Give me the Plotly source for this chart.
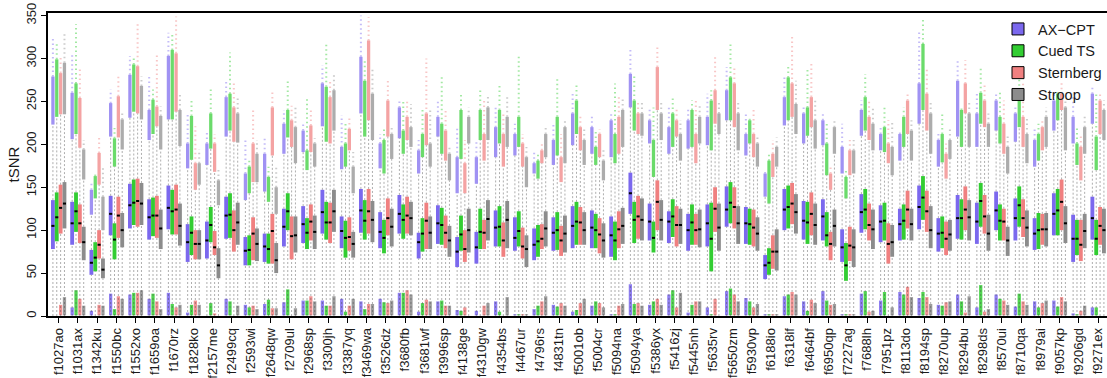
import plotly.graph_objects as go

subjects = ["f1027ao", "f1031ax", "f1342ku", "f1550bc", "f1552xo", "f1659oa", "f1670rz", "f1828ko",
            "f2157me", "f2499cq", "f2593wi", "f2648qw", "f2709ul", "f2968sp", "f3300jh", "f3387yq",
            "f3469wa", "f3526dz", "f3680fb", "f3681wf", "f3996sp", "f4138ge", "f4310gw", "f4354bs",
            "f4467ur", "f4796rs", "f4831tn", "f5001ob", "f5004cr", "f5094na", "f5094ya", "f5386yx",
            "f5416zj", "f5445nh", "f5635rv", "f5650zm", "f5930vp", "f6188io", "f6318if", "f6464bf",
            "f6950qp", "f7227ag", "f7688lh", "f7951pz", "f8113do", "f8194sp", "f8270up", "f8294bu",
            "f8298ds", "f8570ui", "f8710qa", "f8979ai", "f9057kp", "f9206gd", "f9271ex"]
tasks = ["AX\u2212CPT", "Cued TS", "Sternberg", "Stroop"]

# ---- AX-CPT ----
ax_q3 = [135,133,77,140,154,136,152,107,110,139, 92,96,125,128,147,116,148,121,141,97,
         129,92,98,123,115,102,115,128,123,116, 167,131,122,119,130,151,127,71,148,134,
         136,101,142,129,125,152,114,141,132,145, 137,114,143,118,139]
ax_q1 = [78,83,48,94,102,89,101,63,67,90, 59,63,81,85,96,79,97,79,96,67,
         84,57,61,81,76,65,76,79,79,69, 119,88,85,76,81,104,84,43,100,89,
         88,63,97,86,88,101,75,90,84,100, 88,77,94,63,89]
ax_med = [105,108,62,119,129,115,126,86,88,117, 76,81,104,107,121,99,123,98,119,86,
          108,75,80,103,91,83,97,105,103,94, 143,110,110,100,108,124,108,59,124,111,
          116,80,121,110,107,127,96,114,110,123, 114,96,119,90,114]
ax_up_start = [223,206,118,209,231,205,229,172,176,209, 135,145,189,191,221,171,236,172,207,166,
               209,143,154,185,187,166,176,199,189,185, 243,201,189,195,199,228,187,139,222,201,
               199,166,210,193,181,224,174,209,197,216, 203,174,216,201,224]
ax_up_dense = [279,260,147,248,281,240,303,201,201,255, 166,189,224,216,271,197,302,201,243,193,
               232,185,185,220,212,178,205,236,220,228, 282,228,220,228,232,263,212,166,255,236,
               228,197,240,212,212,271,205,274,236,251, 236,205,251,232,259]
ax_up_max = [323,306,157,264,303,279,330,236,216,274, 208,208,240,226,292,234,350,212,253,205,
             251,220,205,243,224,193,224,259,234,236, 313,243,243,243,259,290,236,170,278,243,
             236,224,251,220,216,333,212,298,259,259, 243,220,259,259,267]
ax_low_top = [0,10,6,26,25,20,27,4,0,20, 13,14,16,18,18,20,17,20,27,5,
              17,7,6,17,2,8,13,5,12,2, 37,13,25,4,10,29,21,2,23,17,
              29,2,26,18,28,21,13,25,10,25, 11,17,18,3,10]

# ---- Cued TS ----
ts_q3 = [144,144,86,108,159,138,147,116,127,143, 94,96,143,114,133,111,135,112,130,114,
         126,117,125,128,122,106,121,133,119,110, 133,110,136,130,132,156,125,79,152,133,
         121,85,148,132,130,163,116,136,155,130, 151,120,148,112,112]
ts_q1 = [87,98,52,66,106,93,95,71,86,91, 59,61,100,78,89,68,89,73,90,75,
         83,76,78,81,81,69,77,83,79,65, 85,74,92,83,52,108,83,48,102,84,
         81,41,101,88,89,112,79,89,104,88, 104,78,94,71,71]
ts_med = [115,122,68,89,132,117,122,97,106,118, 77,78,122,97,109,91,111,91,112,96,
          106,95,98,104,99,87,100,110,100,88, 112,91,116,109,90,132,107,62,127,109,
          94,59,124,111,111,138,97,114,134,111, 129,100,123,90,90]
ts_up_start = [232,212,137,174,238,212,229,182,195,216, 143,133,208,170,203,174,209,166,189,185,
               189,183,205,201,197,160,187,212,176,178, 216,162,197,197,193,228,201,131,228,210,
               164,137,216,191,197,240,179,197,224,201, 220,181,228,176,170]
ts_up_dense = [299,271,163,207,293,252,310,233,236,259, 174,162,240,193,267,201,274,205,216,212,
               224,240,240,240,232,181,232,251,197,212, 251,205,236,240,251,278,228,181,278,243,
               201,162,255,220,232,317,212,240,260,232, 263,212,259,201,209]
ts_up_max = [318,340,166,219,301,264,328,252,266,307, 181,174,274,255,319,226,298,218,251,243,
             280,259,263,271,305,191,278,269,216,271, 282,243,257,251,263,319,232,189,290,290,
             224,170,282,243,243,348,236,243,290,263, 282,224,263,220,259]
ts_low_top = [0,30,0,8,27,26,14,13,15,17, 10,19,31,18,12,5,8,16,27,15,
              18,6,0,5,2,12,11,7,17,2, 14,17,30,13,2,32,17,2,25,6,
              18,2,29,28,25,28,12,17,36,20, 26,10,11,2,10]

# ---- Sternberg ----
sb_q3 = [153,130,100,139,160,140,153,100,99,123, 115,119,116,130,132,115,148,137,139,132,
         117,100,112,109,103,107,105,127,114,122, 140,158,128,119,150,150,124,94,155,144,
         98,104,131,108,146,146,110,151,141,125, 136,119,159,112,127]
sb_q1 = [96,85,67,91,104,91,95,66,71,75, 65,61,66,88,85,76,96,94,96,78,
         79,63,78,69,67,78,70,83,73,79, 90,100,81,83,98,102,81,55,107,94,
         65,64,88,61,102,98,71,100,96,88, 92,83,100,64,83]
sb_med = [126,108,83,117,134,117,124,84,80,100, 96,99,93,110,109,92,122,114,117,111,
          97,78,97,88,81,90,88,109,95,101, 116,133,106,100,125,127,103,75,131,119,
          84,82,106,84,124,122,90,124,116,110, 114,101,133,83,105]
sb_up_start = [235,196,153,208,236,221,238,147,168,203, 156,187,197,191,201,193,228,209,205,199,
               181,143,181,174,174,178,156,193,185,189, 212,240,209,178,224,220,185,162,232,220,
               147,164,205,178,212,216,160,236,220,189, 197,193,240,158,212]
sb_up_dense = [283,254,190,256,291,244,306,178,201,243, 201,243,228,222,255,218,321,251,232,236,
               216,178,212,212,201,193,185,220,212,232, 236,290,228,212,263,271,212,189,271,255,
               166,193,232,201,251,259,189,271,251,224, 232,220,259,197,251]
sb_up_max = [303,289,211,281,340,306,349,221,212,274, 240,263,245,243,274,230,348,276,251,300,
             240,205,251,236,212,201,212,232,218,255, 251,313,243,251,302,290,240,205,325,294,
             174,205,251,228,259,290,201,298,271,251, 271,228,274,212,259]
sb_low_top = [13,20,13,23,27,17,10,18,3,0, 12,9,0,23,12,12,14,15,30,19,
              12,10,12,0,2,17,15,15,15,12, 15,20,10,17,20,25,10,2,28,19,
              13,2,5,0,34,22,16,4,5,18, 17,15,22,6,0]

# ---- Stroop ----
st_q3 = [156,104,67,120,155,124,131,100,79,132, 102,85,116,117,147,98,134,125,133,116,
         105,125,135,134,94,122,117,121,108,126, 137,135,125,124,131,128,115,101,142,131,
         124,101,124,106,125,128,112,135,118,104, 123,120,128,119,125]
st_q1 = [102,65,44,80,106,78,82,66,44,83, 64,50,74,78,98,68,86,81,94,78,
         69,74,88,79,57,81,74,83,68,84, 88,88,84,80,76,84,76,53,96,83,
         81,57,78,69,88,79,76,88,76,70, 81,81,85,79,73]
st_med = [131,86,54,100,131,102,105,84,59,109, 84,65,94,98,122,84,112,104,114,97,
          88,100,113,112,78,102,96,100,88,105, 112,112,106,101,103,108,96,75,121,106,
          105,80,101,86,107,100,95,115,96,88, 103,101,108,99,100]
st_up_start = [235,159,100,194,229,194,198,153,129,202, 156,119,178,174,216,143,205,183,197,174,
               158,201,205,197,150,185,178,176,158,197, 210,205,181,201,212,193,174,174,212,195,
               189,166,193,164,181,189,183,197,197,166, 178,197,193,189,205]
st_up_dense = [295,194,139,229,268,233,240,178,158,236, 189,150,220,201,263,174,259,212,220,201,
               189,232,243,232,185,212,220,205,181,240, 236,236,212,232,236,236,201,197,247,228,
               220,193,224,197,216,236,205,236,224,197, 212,232,243,220,240]
st_up_max = [330,205,175,238,279,244,260,194,172,255, 205,174,245,207,282,191,290,220,247,243,
             197,243,255,255,197,220,228,220,193,255, 251,251,228,247,251,251,208,208,274,251,
             228,205,243,228,228,251,220,251,236,212, 232,243,251,232,251]
st_low_top = [22,12,12,20,30,8,13,13,0,12, 8,9,9,17,23,20,14,18,25,17,
              12,0,15,22,2,23,12,20,10,14, 12,13,27,17,0,17,14,2,25,15,
              14,2,6,10,22,14,17,23,8,13, 13,18,17,12,0]

y_ticks = [0, 50, 100, 150, 200, 250, 300, 350]

# ---------------- styles ----------------
colors = [(123, 104, 238), (50, 205, 50), (240, 128, 128), (140, 140, 140)]
task_data = [
    (ax_q1, ax_med, ax_q3, ax_up_start, ax_up_dense, ax_up_max, ax_low_top),
    (ts_q1, ts_med, ts_q3, ts_up_start, ts_up_dense, ts_up_max, ts_low_top),
    (sb_q1, sb_med, sb_q3, sb_up_start, sb_up_dense, sb_up_max, sb_low_top),
    (st_q1, st_med, st_q3, st_up_start, st_up_dense, st_up_max, st_low_top),
]


def rgba(c, a):
    return "rgba(%d,%d,%d,%.2f)" % (c[0], c[1], c[2], a)


idx = list(range(len(subjects)))
slot = 0.2      # each subject holds 4 boxes + one empty slot
cloud_w = 0.17
fig = go.Figure()

for k, (name, col, d) in enumerate(zip(tasks, colors, task_data)):
    q1, med, q3, us, ud, um, lt = d
    xc = [i + (k - 1.5) * slot for i in idx]
    box_off = (k - 2) * slot
    cloud_off = box_off + (slot - cloud_w) / 2

    # dashed whiskers
    wx, wy = [], []
    for x, a, b, c in zip(xc, q1, q3, us):
        wx += [x, x, None, x, x, None]
        wy += [0, a, None, b, c, None]
    fig.add_trace(go.Scatter(x=wx, y=wy, mode="lines", hoverinfo="skip", showlegend=False,
                             line=dict(color="rgba(70,70,70,0.55)", width=0.8, dash="2px,2px")))

    # sparse outliers (thin dotted column)
    sx, sy = [], []
    for x, a, b in zip(xc, ud, um):
        sx += [x, x, None]
        sy += [a, b, None]
    fig.add_trace(go.Scatter(x=sx, y=sy, mode="lines", hoverinfo="skip", showlegend=False,
                             line=dict(color=rgba(col, 0.45), width=2, dash="1.5px,3px")))

    # dense upper outlier cloud
    fig.add_trace(go.Bar(x=idx, base=us, y=[b - a for a, b in zip(us, ud)],
                         offset=cloud_off, width=cloud_w, showlegend=False, hoverinfo="skip",
                         marker=dict(color=rgba(col, 0.72), line=dict(width=0))))

    # low-value cloud near zero
    fig.add_trace(go.Bar(x=idx, base=0.8, y=[(t - 0.8) if t > 0 else None for t in lt],
                         offset=cloud_off, width=cloud_w, showlegend=False, hoverinfo="skip",
                         marker=dict(color=rgba(col, 0.85), line=dict(width=0))))

    # box (q1..q3)
    fig.add_trace(go.Bar(x=idx, base=q1, y=[b - a for a, b in zip(q1, q3)],
                         offset=box_off, width=slot, showlegend=False, name=name,
                         marker=dict(color=rgba(col, 1.0), line=dict(width=0))))

    # median line
    mx, my = [], []
    for x, m in zip(xc, med):
        mx += [x - slot / 2 + 0.02, x + slot / 2 - 0.02, None]
        my += [m, m, None]
    fig.add_trace(go.Scatter(x=mx, y=my, mode="lines", hoverinfo="skip", showlegend=False,
                             line=dict(color="black", width=2)))

# legend entries
for name, col in zip(tasks, colors):
    fig.add_trace(go.Bar(x=[None], y=[None], name=name,
                         marker=dict(color=rgba(col, 1.0), line=dict(color="black", width=1))))

fig.update_layout(
    width=1107, height=378,
    margin=dict(l=48, r=0, t=13, b=62),
    plot_bgcolor="white", paper_bgcolor="white",
    barmode="overlay",
    font=dict(family="Liberation Sans, Arial, sans-serif", color="#1a1a1a"),
    legend=dict(x=1.0, xanchor="right", y=1.0, yanchor="top",
                font=dict(size=14.5), bgcolor="rgba(0,0,0,0)", itemwidth=30,
                tracegroupgap=0),
    xaxis=dict(range=[-0.555, 54.46], tickmode="array", tickvals=idx, ticktext=subjects,
               tickangle=-90, ticks="outside", ticklen=5, tickwidth=1, tickcolor="black",
               showline=True, linecolor="black", linewidth=1.8, mirror=True,
               showgrid=False, zeroline=False, tickfont=dict(size=13)),
    yaxis=dict(range=[0, 353], tickmode="array", tickvals=y_ticks,
               tickangle=-90, ticks="outside", ticklen=5, tickwidth=1, tickcolor="black",
               showline=True, linecolor="black", linewidth=1.8,
               showgrid=False, zeroline=False, tickfont=dict(size=13),
               title=dict(text="tSNR", font=dict(size=15), standoff=1)),
)

fig.write_html("out.html", config={"displayModeBar": False},
               post_script="document.body.style.margin='0';document.body.style.overflow='hidden';")
